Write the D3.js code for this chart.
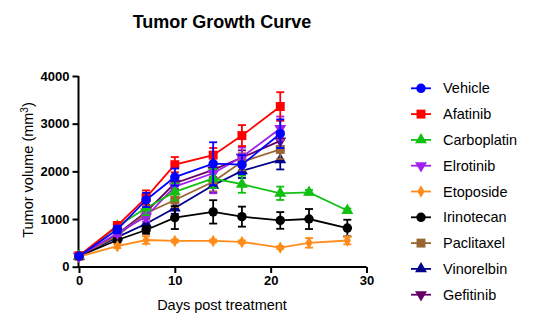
<!DOCTYPE html>
<html><head><meta charset="utf-8">
<script src="https://cdn.jsdelivr.net/npm/d3@7"></script>
<style>body{margin:0;background:#fff}svg{display:block;font-family:"Liberation Sans",Arial,sans-serif}</style>
</head><body><svg id="c" width="537" height="330"></svg>
<script>
const seriesNames = ["Vehicle","Afatinib","Carboplatin","Elrotinib","Etoposide","Irinotecan","Paclitaxel","Vinorelbin","Gefitinib"];
const colors = ["#0000FF","#FF0000","#11C011","#A020F0","#FF8C1A","#000000","#996633","#00008B","#660066"];
const shapes = ["circle","square","triangle","triangleDown","diamond","circle","square","triangle","triangleDown"];
const daysShort = [0,4,7,10,14,17,21];
const daysLong = [0,4,7,10,14,17,21,24,28];
const vehicle = [220,780,1400,1880,2160,2140,2790];
const vehicleErr = [30,80,150,180,450,200,300];
const afatinib = [230,860,1450,2140,2340,2750,3360];
const afatinibErr = [30,80,150,160,150,220,300];
const carboplatin = [220,850,1230,1570,1850,1730,1540,1560,1180];
const carboplatinErr = [30,60,150,180,200,180,140,50,40];
const elrotinib = [220,700,1050,1680,1960,2300,2900];
const elrotinibErr = [30,60,100,150,420,200,250];
const etoposide = [210,430,560,540,540,520,400,500,550];
const etoposideErr = [20,40,80,30,30,30,30,100,80];
const irinotecan = [220,560,770,1030,1150,1050,970,1000,810];
const irinotecanErr = [30,50,80,240,245,210,175,210,175];
const paclitaxel = [220,650,1120,1400,1780,2200,2460];
const paclitaxelErr = [30,60,120,150,200,180,200];
const vinorelbin = [220,620,900,1230,1710,2010,2240];
const vinorelbinErr = [30,60,100,120,150,150,200];
const gefitinib = [220,680,1150,1750,2030,2290,2640];
const gefitinibErr = [30,60,100,120,150,150,200];
const xTicks = [0,10,20,30];
const yTicks = [0,1000,2000,3000,4000];

const vals = [vehicle,afatinib,carboplatin,elrotinib,etoposide,irinotecan,paclitaxel,vinorelbin,gefitinib];
const errs = [vehicleErr,afatinibErr,carboplatinErr,elrotinibErr,etoposideErr,irinotecanErr,paclitaxelErr,vinorelbinErr,gefitinibErr];
const series = seriesNames.map((n,i)=>{
  const days = vals[i].length===daysLong.length ? daysLong : daysShort;
  return {name:n,color:colors[i],shape:shapes[i],pts:days.map((d,j)=>({x:d,y:vals[i][j],e:errs[i][j]}))};
});

const svg = d3.select("#c");
const x = d3.scaleLinear().domain([0,30]).range([79,366.5]);
const y = d3.scaleLinear().domain([0,4000]).range([266.7,76]);

function sym(shape){
  const m = {circle:[d3.symbolCircle,70],square:[d3.symbolSquare,80],triangle:[d3.symbolTriangle,62],triangleDown:[d3.symbolTriangle,62],diamond:[d3.symbolDiamond,45]};
  return d3.symbol().type(m[shape][0]).size(m[shape][1])();
}

// Title
svg.append("text").attr("x",222).attr("y",28).attr("text-anchor","middle")
  .attr("font-weight","bold").attr("font-size",18).text("Tumor Growth Curve");

// Axes
const xa = svg.append("g").attr("transform","translate(0,267)")
  .call(d3.axisBottom(x).tickValues(xTicks).tickSize(6).tickPadding(3).tickFormat(d3.format("d")));
const ya = svg.append("g").attr("transform","translate(78.5,0)")
  .call(d3.axisLeft(y).tickValues(yTicks).tickSize(6).tickPadding(3).tickFormat(d3.format("d")));
[xa,ya].forEach(a=>{
  a.selectAll(".domain").attr("stroke","#000").attr("stroke-width",2);
  a.selectAll(".tick line").attr("stroke","#000").attr("stroke-width",2);
  a.selectAll(".tick text").attr("font-weight","bold").attr("font-size",13).attr("fill","#000")
   .attr("font-family","'Liberation Sans',Arial,sans-serif");
});
xa.select(".domain").attr("d","M78.5,0H366.5");
ya.select(".domain").attr("d","M0,76V268");

svg.append("text").attr("x",222).attr("y",310).attr("text-anchor","middle").attr("font-size",14.5).text("Days post treatment");
const yl = svg.append("text").attr("transform","translate(33,170) rotate(-90)").attr("text-anchor","middle").attr("font-size",14.5);
yl.append("tspan").text("Tumor volume (mm");
yl.append("tspan").attr("dy",-5).attr("font-size",10).text("3");
yl.append("tspan").attr("dy",5).text(")");

// Series (Vehicle on top)
const plot = svg.append("g");
const line = d3.line().x(d=>x(d.x)).y(d=>y(d.y));
series.slice().reverse().forEach(s=>{
  const g = plot.append("g");
  g.append("path").attr("d",line(s.pts)).attr("fill","none").attr("stroke",s.color).attr("stroke-width",1.8);
  s.pts.forEach(p=>{
    const cx=x(p.x), t=y(p.y+p.e), b=y(Math.max(0,p.y-p.e));
    g.append("line").attr("x1",cx).attr("x2",cx).attr("y1",t).attr("y2",b).attr("stroke",s.color).attr("stroke-width",1.8);
    [t,b].forEach(yy=>g.append("line").attr("x1",cx-4).attr("x2",cx+4).attr("y1",yy).attr("y2",yy).attr("stroke",s.color).attr("stroke-width",1.8));
  });
  g.selectAll("path.m").data(s.pts).enter().append("path").attr("class","m")
    .attr("d",sym(s.shape))
    .attr("transform",d=>`translate(${x(d.x)},${y(d.y)})`+(s.shape==="triangleDown"?" rotate(180)":""))
    .attr("fill",s.color);
});

// Legend
const lg = svg.append("g");
series.forEach((s,i)=>{
  const yy = 88.3 + i*25.8;
  lg.append("line").attr("x1",411).attr("x2",431).attr("y1",yy).attr("y2",yy).attr("stroke",s.color).attr("stroke-width",1.8);
  lg.append("path").attr("d",sym(s.shape)).attr("fill",s.color)
    .attr("transform",`translate(421,${yy})`+(s.shape==="triangleDown"?" rotate(180)":""));
  lg.append("text").attr("x",443).attr("y",yy+5).attr("font-size",14.5).text(s.name);
});
</script></body></html>
